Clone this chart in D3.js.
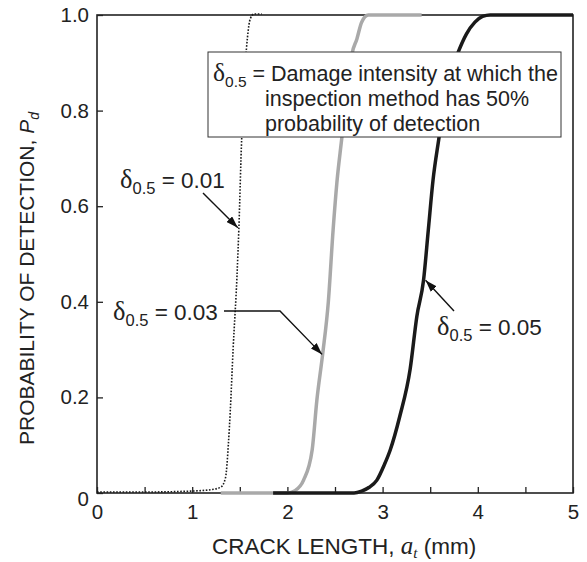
<!DOCTYPE html>
<html>
<head>
<meta charset="utf-8">
<script src="https://cdn.jsdelivr.net/npm/d3@7"></script>
<style>
  body { margin: 0; background: #fff; }
  text { font-family: "Liberation Sans", Arial, sans-serif; fill: #222; }
</style>
</head>
<body>
<div id="chart"></div>
<script>
// crack length (mm) vs probability of detection
const crack01 = [0, 0.5, 1.0, 1.2, 1.3, 1.35, 1.38, 1.40, 1.43, 1.47, 1.49, 1.52, 1.535, 1.56, 1.58, 1.61, 1.65, 1.73];
const pod01 = [0, 0, 0.002, 0.005, 0.01, 0.03, 0.1, 0.17, 0.3, 0.45, 0.55, 0.74, 0.8, 0.9, 0.95, 0.99, 1.0, 1.0];

const crack03 = [1.3, 2.0, 2.08, 2.17, 2.26, 2.31, 2.37, 2.43, 2.48, 2.52, 2.57, 2.62, 2.68, 2.73, 2.78, 2.85, 3.41];
const pod03 = [0, 0, 0.005, 0.027, 0.09, 0.195, 0.29, 0.40, 0.55, 0.65, 0.74, 0.83, 0.92, 0.95, 0.985, 1.0, 1.0];

const crack05 = [1.85, 2.7, 2.78, 2.86, 2.94, 3.02, 3.08, 3.18, 3.29, 3.36, 3.43, 3.48, 3.53, 3.59, 3.65, 3.72, 3.79, 3.88, 3.97, 4.05, 4.13, 5.0];
const pod05 = [0, 0, 0.004, 0.012, 0.027, 0.06, 0.09, 0.16, 0.26, 0.37, 0.445, 0.55, 0.655, 0.74, 0.82, 0.88, 0.92, 0.96, 0.985, 0.997, 1.0, 1.0];

const xTicks = [0, 1, 2, 3, 4, 5];
const xMinorTicks = [0.5, 1.5, 2.5, 3.5, 4.5];
const yTicks = [0, 0.2, 0.4, 0.6, 0.8, 1.0];
const yTickLabels = ["0", "0.2", "0.4", "0.6", "0.8", "1.0"];

const noteLines = ["Damage intensity at which the", "inspection method has 50%", "probability of detection"];

const width = 587, height = 562;
const margin = { top: 15, right: 14, bottom: 69, left: 97 };

const svg = d3.select("#chart").append("svg")
  .attr("width", width).attr("height", height);

const x = d3.scaleLinear().domain([0, 5]).range([margin.left, width - margin.right]);
const y = d3.scaleLinear().domain([0, 1]).range([height - margin.bottom, margin.top]);

// frame
svg.append("rect")
  .attr("x", x(0)).attr("y", y(1))
  .attr("width", x(5) - x(0)).attr("height", y(0) - y(1))
  .attr("fill", "none").attr("stroke", "#222").attr("stroke-width", 1.6);

// axes, ticks pointing in
svg.append("g")
  .attr("transform", `translate(0,${y(0)})`)
  .call(d3.axisBottom(x).tickValues(xTicks).tickSize(-6).tickPadding(11).tickFormat(d3.format("d")));
svg.append("g")
  .attr("transform", `translate(0,${y(0)})`)
  .call(d3.axisBottom(x).tickValues(xMinorTicks).tickSize(-6).tickFormat(""));

const yAxis = svg.append("g")
  .attr("transform", `translate(${x(0)},0)`)
  .call(d3.axisLeft(y).tickValues(yTicks).tickSize(-6).tickPadding(8).tickFormat((d, i) => yTickLabels[i]));

svg.selectAll(".domain").remove();
svg.selectAll(".tick line").attr("stroke", "#222").attr("stroke-width", 1.3);
svg.selectAll(".tick text").style("font-size", "20.5px").attr("fill", "#222");
yAxis.selectAll(".tick text").filter((d) => d === 0).attr("dy", "0.62em");

// curves
const line = d3.line().x((d) => x(d[0])).y((d) => y(d[1])).curve(d3.curveMonotoneX);

svg.append("path")
  .datum(d3.zip(crack03, pod03))
  .attr("d", line)
  .attr("fill", "none").attr("stroke", "#a9a9a9").attr("stroke-width", 3.5);

svg.append("path")
  .datum(d3.zip(crack05, pod05))
  .attr("d", line)
  .attr("fill", "none").attr("stroke", "#1a1a1a").attr("stroke-width", 3.5);

svg.append("path")
  .datum(d3.zip(crack01, pod01))
  .attr("d", line)
  .attr("transform", "translate(0,-1)")
  .attr("fill", "none").attr("stroke", "#1a1a1a").attr("stroke-width", 1.6)
  .attr("stroke-dasharray", "1.6,1.6");

// arrows
svg.append("defs").append("marker")
  .attr("id", "head")
  .attr("viewBox", "0 0 12 8")
  .attr("refX", 12).attr("refY", 4)
  .attr("markerWidth", 12).attr("markerHeight", 8)
  .attr("markerUnits", "userSpaceOnUse")
  .attr("orient", "auto")
  .append("path").attr("d", "M0,0L12,4L0,8Z").attr("fill", "#111");

const arrow = (pts) => svg.append("path")
  .attr("d", d3.line()(pts))
  .attr("fill", "none").attr("stroke", "#111").attr("stroke-width", 1.4)
  .attr("marker-end", "url(#head)");

arrow([[203, 193], [x(1.49) - 1, y(0.555)]]);
arrow([[224, 311], [280, 311], [x(2.375) - 1, y(0.29)]]);
arrow([[454, 311], [x(3.43) + 2, y(0.445)]]);

// delta labels
const deltaLabel = (tx, ty, rest, size) => {
  const t = svg.append("text").attr("x", tx).attr("y", ty).style("font-size", size + "px");
  t.append("tspan").text("δ").style("font-family", "'Liberation Serif', serif").style("font-size", (size + 4) + "px");
  t.append("tspan").text("0.5").attr("dy", 6).style("font-size", (size - 6) + "px");
  t.append("tspan").text(rest).attr("dy", -6);
  return t;
};

deltaLabel(120, 188, " = 0.01", 22.5);
deltaLabel(113, 320, " = 0.03", 22.5);
deltaLabel(437, 335, " = 0.05", 22.5);

// note box
svg.append("rect")
  .attr("x", 208).attr("y", 52).attr("width", 353).attr("height", 85)
  .attr("fill", "#fff").attr("stroke", "#333").attr("stroke-width", 1);
deltaLabel(213, 81, " = " + noteLines[0], 21.5);
noteLines.slice(1).forEach((s, i) => {
  svg.append("text").attr("x", 265).attr("y", 106 + i * 25).style("font-size", "21.5px").text(s);
});

// axis titles
const xt = svg.append("text")
  .attr("x", 212).attr("y", 554)
  .style("font-size", "22.5px");
xt.append("tspan").text("CRACK LENGTH, ");
xt.append("tspan").text("a").style("font-family", "'Liberation Serif', serif").style("font-style", "italic").style("font-size", "25px");
xt.append("tspan").text("t").attr("dy", 4).style("font-family", "'Liberation Serif', serif").style("font-style", "italic").style("font-size", "15px");
xt.append("tspan").text(" (mm)").attr("dy", -4);

const yt = svg.append("text")
  .attr("transform", "translate(34,445) rotate(-90)")
  .style("font-size", "21px");
yt.append("tspan").text("PROBABILITY OF DETECTION, ");
yt.append("tspan").text("P").style("font-style", "italic");
yt.append("tspan").text("d").attr("dy", 5).style("font-style", "italic").style("font-size", "14px");
</script>
</body>
</html>
